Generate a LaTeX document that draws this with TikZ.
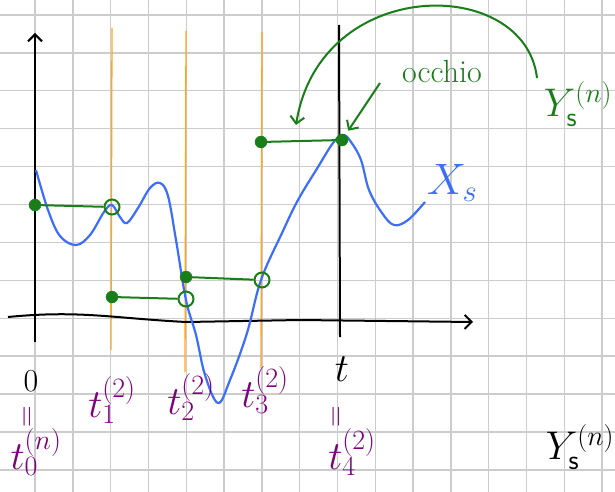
\RequirePackage{fix-cm}
\documentclass[tikz,border=0pt]{standalone}
\usetikzlibrary{arrows.meta}
\definecolor{gridgray}{RGB}{204,204,204}
\definecolor{pblue}{RGB}{60,110,250}
\definecolor{pgreen}{RGB}{25,125,25}
\definecolor{porange}{RGB}{255,165,30}
\definecolor{ppurple}{RGB}{125,0,125}
\begin{document}
\begin{tikzpicture}[x=1pt,y=-1pt,
  >={Straight Barb[length=7pt,width=14pt]},
  gridline/.style={draw=gridgray,line width=1.4pt},
  axis/.style={draw=black,line width=2pt},
  tline/.style={draw=porange,line width=1.3pt},
  xcurve/.style={draw=pblue,line width=2.2pt},
  stepline/.style={draw=pgreen,line width=2pt},
  fulldot/.style={circle,fill=pgreen,draw=pgreen,minimum size=12pt,inner sep=0pt},
  opendot/.style={circle,draw=pgreen,line width=2pt,minimum size=15pt,inner sep=0pt},
  tlab/.style={text=ppurple,font=\fontsize{40}{40}\selectfont},
  blab/.style={text=black,font=\fontsize{40}{40}\selectfont},
  glab/.style={text=pgreen,font=\fontsize{40}{40}\selectfont},
  eqlab/.style={text=ppurple,rotate=90,font=\fontsize{30}{30}\selectfont}
]
  \useasboundingbox (0,0) rectangle (615,492);
  \fill[white] (0,0) rectangle (615,492);

  % squared paper
  \foreach \i in {0,...,15}
    \draw[gridline] ({35+37.8*\i},0) -- ++(0,492);
  \foreach \j in {0,...,12}
    \draw[gridline] (0,{15+37.9*\j}) -- ++(615,0);

  % partition times
  \draw[tline] (112,28) -- (111,350);
  \draw[tline] (186,31) -- (185,372);
  \draw[tline] (262,32) -- (261,368);

  % axes
  \coordinate (ybot) at (35,342);
  \coordinate (ytop) at (35,33);
  \coordinate (xleft) at (8,317);
  \coordinate (xright) at (473,322);
  \coordinate (ttop) at (339,25);
  \coordinate (tbot) at (340,337);
  \draw[axis,->] (ybot) -- (ytop);
  \draw[axis,->] (xleft) .. controls (80,310) and (110,318) .. (186,322)
    -- (300,320) -- (xright);
  \draw[axis] (ttop) -- (tbot);

  % the path X_s
  \draw[xcurve] plot[smooth,tension=0.6] coordinates {
    (36,170) (48,210) (60,236) (76,245) (90,235) (104,212) (112,205)
    (120,217) (127,223) (138,208) (150,188) (160,183) (168,196)
    (176,240) (186,300) (196,335) (205,375) (218,403) (230,380)
    (247,333) (261,280) (282,233) (298,200) (318,167) (333,143)
    (343,135) (351,142) (361,160) (369,190) (382,213) (394,225)
    (408,220) (425,202)};
  \node[text=pblue,font=\fontsize{44}{44}\selectfont] (xs) at (452,183) {$X_s$};

  % the step process
  \node[fulldot] (d0) at (35,205) {};
  \node[opendot] (o1) at (112,207) {};
  \node[fulldot] (d1) at (112,297) {};
  \node[opendot] (o2) at (186,299) {};
  \node[fulldot] (d2) at (186,277) {};
  \node[opendot] (o3) at (262,280) {};
  \node[fulldot] (d3) at (261,142) {};
  \node[fulldot] (d4) at (342,140) {};
  \draw[stepline] (d0) -- (o1);
  \draw[stepline] (d1) -- (o2);
  \draw[stepline] (d2) -- (o3);
  \draw[stepline] (d3) -- (d4);

  \node[glab,font=\fontsize{32}{32}\selectfont] (occhio) at (442,72) {occhio};
  \node[glab] (yn) at (578,104) {$Y_{\mathsf{s}}^{(n)}$};
  \coordinate (bigstart) at (537,78);
  \coordinate (bigend) at (296,125);
  \draw[stepline,->] (bigstart) .. controls (525,-25) and (320,-25) .. (bigend);
  \coordinate (eyestart) at (380,83);
  \draw[stepline,->,shorten >=5pt] (eyestart) -- (d4);

  % time labels
  \node[blab,font=\fontsize{32}{32}\selectfont] (zero) at (31,381) {$0$};
  \node[eqlab] (eq0) at (29,417) {$=$};
  \node[tlab] (t0) at (36,452) {$t_0^{(n)}$};
  \node[tlab] (t1) at (112,400) {$t_1^{(2)}$};
  \node[tlab] (t2) at (191,397) {$t_2^{(2)}$};
  \node[tlab] (t3) at (265,390) {$t_3^{(2)}$};
  \node[blab] (tt) at (342,369) {$t$};
  \node[eqlab] (eq4) at (338,417) {$=$};
  \node[tlab] (t4) at (352,452) {$t_4^{(2)}$};
  \node[blab] (yb) at (580,447) {$Y_{\mathsf{s}}^{(n)}$};
\end{tikzpicture}
\end{document}
